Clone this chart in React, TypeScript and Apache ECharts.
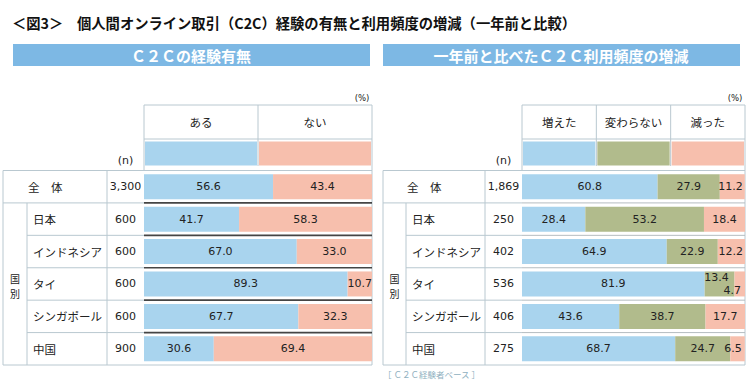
import React, { useEffect, useRef } from 'react';
import * as echarts from 'echarts';

// ---------- data ----------
const TITLE_NO = '＜図3＞';
const TITLE = '個人間オンライン取引（C2C）経験の有無と利用頻度の増減（一年前と比較）';
const LEFT_HEADER = 'Ｃ２Ｃの経験有無';
const RIGHT_HEADER = '一年前と比べたＣ２Ｃ利用頻度の増減';
const ROWS = ['全　体', '日本', 'インドネシア', 'タイ', 'シンガポール', '中国'];
const GROUP_LABEL = '国別';
const LEFT_N = ['3,300', '600', '600', '600', '600', '900'];
const RIGHT_N = ['1,869', '250', '402', '536', '406', '275'];
const LEFT_SERIES = ['ある', 'ない'];
const ARU = [56.6, 41.7, 67.0, 89.3, 67.7, 30.6];
const NAI = [43.4, 58.3, 33.0, 10.7, 32.3, 69.4];
const RIGHT_SERIES = ['増えた', '変わらない', '減った'];
const FUETA = [60.8, 28.4, 64.9, 81.9, 43.6, 68.7];
const KAWARANAI = [27.9, 53.2, 22.9, 13.4, 38.7, 24.7];
const HETTA = [11.2, 18.4, 12.2, 4.7, 17.7, 6.5];
const UNIT_PCT = '(%)';
const UNIT_N = '(n)';
const FOOTNOTE = '［ Ｃ２Ｃ経験者ベース ］';

// ---------- styles ----------
const BLUE = '#a9d4ee';
const SALMON = '#f7bfad';
const OLIVE = '#b1bb8c';
const HEAD = '#7db8e4';
const BORDER = '#b9c8d0';
const DARK = '#454545';
const TXT = '#222';
const JP = '"Noto Sans CJK JP", sans-serif';
const NUM = '"DejaVu Sans", sans-serif';

const TOP = 170.5;
const BOTTOM = 365;
const ROWH = (BOTTOM - TOP) / ROWS.length;
const HTOP = 105;
const HMID = 139;
const HBOT = 166;

const LT = { x0: 3, xc: 27, xn: 107, xb: 144, xe: 372, names: LEFT_SERIES, colors: [BLUE, SALMON], sep: DARK, sepW: 1.6 };
const RT = { x0: 383, xc: 406, xn: 485, xb: 522, xe: 745, names: RIGHT_SERIES, colors: [BLUE, OLIVE, SALMON], sep: '#b5bcc0', sepW: 1 };

function line(x1: number, y1: number, x2: number, y2: number, color = BORDER, w = 1) {
  return { type: 'line', silent: true, shape: { x1, y1, x2, y2 }, style: { stroke: color, lineWidth: w } };
}
function text(x: number, y: number, s: string, o: any = {}) {
  const align = o.align || 'center';
  return {
    type: 'text', silent: true, x, y,
    style: {
      text: s, fill: o.fill || TXT, fontSize: o.size || 11.5, fontFamily: o.family || JP,
      fontWeight: o.weight || 'normal', align, textAlign: align,
      verticalAlign: 'middle', textVerticalAlign: 'middle',
    },
  };
}

function table(t: any) {
  const els: any[] = [];
  const n = t.names.length;
  const cw = (t.xe - t.xb) / n;
  // header box
  els.push(line(t.xb, HTOP, t.xe, HTOP));
  els.push(line(t.xb, HMID, t.xe, HMID));
  els.push(line(t.xb, HTOP, t.xb, TOP));
  els.push(line(t.xe, HTOP, t.xe, BOTTOM));
  for (let k = 1; k < n; k++) els.push(line(t.xb + k * cw, HTOP, t.xb + k * cw, HBOT));
  for (let k = 0; k < n; k++) {
    els.push({ type: 'rect', silent: true, shape: { x: t.xb + k * cw + 1, y: HMID + 2.5, width: cw - 2, height: HBOT - HMID - 3 }, style: { fill: t.colors[k] } });
    els.push(text(t.xb + k * cw + cw / 2, (HTOP + HMID) / 2, t.names[k]));
  }
  els.push(text(t.xe - 10, HTOP - 7, UNIT_PCT, { size: 8.5, family: NUM }));
  els.push(text((t.xn + t.xb) / 2, HBOT - 6, UNIT_N, { size: 11, family: NUM }));
  // body grid
  els.push(line(t.x0, TOP, t.xe, TOP));
  els.push(line(t.x0, BOTTOM, t.xe, BOTTOM));
  els.push(line(t.x0, TOP, t.x0, BOTTOM));
  els.push(line(t.xc, TOP + ROWH, t.xc, BOTTOM));
  els.push(line(t.xn, TOP, t.xn, BOTTOM));
  for (let r = 1; r < ROWS.length; r++) {
    const y = TOP + r * ROWH;
    els.push(line(r === 1 ? t.x0 : t.xc, y, t.xb, y));
    els.push(line(t.xb, y, t.xe, y, t.sep, t.sepW));
  }
  const cy = (TOP + ROWH + BOTTOM) / 2 + 2;
  const chars = Array.from(GROUP_LABEL);
  chars.forEach((c, i) => {
    els.push(text((t.x0 + t.xc) / 2, cy + (i - (chars.length - 1) / 2) * 14.5, c, { size: 10 }));
  });
  return els;
}

const LABEL_OVERRIDE: Record<string, any> = {
  'R1-3': { offset: [-3, -6.5] },
  'R2-0': { position: 'insideRight', distance: 2 },
  'R2-2': { position: 'insideRight', distance: 2 },
  'R2-3': { position: 'insideRight', distance: 4, offset: [0, 7] },
  'R2-5': { position: 'insideRight', distance: 3 },
};

function barSeries(name: string, values: number[], color: string, stack: string, gi: number, key: string) {
  return {
    type: 'bar', name, stack, xAxisIndex: gi, yAxisIndex: gi * 2, barWidth: 25, silent: true,
    itemStyle: { color },
    label: {
      show: true, position: 'inside', color: TXT, fontSize: 11, fontFamily: NUM,
      formatter: (p: any) => Number(p.value).toFixed(1),
    },
    data: values.map((v, i) => {
      const o = LABEL_OVERRIDE[key + '-' + i];
      return o ? { value: v, label: o } : { value: v };
    }),
  };
}

function yAxes(gi: number, t: any, nList: string[]) {
  return [
    {
      gridIndex: gi, type: 'category', inverse: true, data: ROWS, position: 'left',
      axisLine: { show: false }, axisTick: { show: false }, splitLine: { show: false },
      axisLabel: {
        align: 'left', margin: t.xb - (t.xc + 1), color: TXT, fontFamily: JP, fontSize: 11.5,
        formatter: (v: string, i: number) => (i === 0 ? `{a|${v}}` : `{b|${v}}`),
        rich: {
          a: { fontFamily: JP, fontSize: 11.5, color: TXT, padding: [0, 0, 0, 0] },
          b: { fontFamily: JP, fontSize: 11.5, color: TXT, padding: [0, 0, 0, 5] },
        },
      },
    },
    {
      gridIndex: gi, type: 'category', inverse: true, data: nList, position: 'left',
      axisLine: { show: false }, axisTick: { show: false }, splitLine: { show: false },
      axisLabel: { align: 'center', margin: (t.xb - t.xn) / 2, color: TXT, fontFamily: NUM, fontSize: 11 },
    },
  ];
}

export default function App() {
  const ref = useRef<HTMLDivElement>(null);
  useEffect(() => {
    document.body.style.margin = '0';
    const chart = echarts.init(ref.current!, null, { renderer: 'svg' });
    const lAx = yAxes(0, { ...LT, xc: LT.x0 + 24 }, LEFT_N);
    const rAx = yAxes(1, { ...RT, xc: RT.x0 + 23 }, RIGHT_N);
    chart.setOption({
      animation: false,
      backgroundColor: '#fff',
      grid: [
        { left: LT.xb, top: TOP, width: LT.xe - LT.xb, height: BOTTOM - TOP },
        { left: RT.xb, top: TOP, width: RT.xe - RT.xb, height: BOTTOM - TOP },
      ],
      xAxis: [
        { gridIndex: 0, type: 'value', min: 0, max: 100, show: false },
        { gridIndex: 1, type: 'value', min: 0, max: 100, show: false },
      ],
      yAxis: [...lAx, ...rAx],
      series: [
        barSeries(LEFT_SERIES[0], ARU, BLUE, 'L', 0, 'L0'),
        barSeries(LEFT_SERIES[1], NAI, SALMON, 'L', 0, 'L1'),
        barSeries(RIGHT_SERIES[0], FUETA, BLUE, 'R', 1, 'R0'),
        barSeries(RIGHT_SERIES[1], KAWARANAI, OLIVE, 'R', 1, 'R1'),
        barSeries(RIGHT_SERIES[2], HETTA, SALMON, 'R', 1, 'R2'),
      ],
      graphic: [
        text(12, 22, TITLE_NO, { align: 'left', size: 14.3, weight: 'bold', fill: '#111' }),
        text(77, 22, TITLE, { align: 'left', size: 14.3, weight: 'bold', fill: '#111' }),
        { type: 'rect', silent: true, shape: { x: 13, y: 44, width: 357, height: 22 }, style: { fill: HEAD } },
        { type: 'rect', silent: true, shape: { x: 383, y: 44, width: 357, height: 22 }, style: { fill: HEAD } },
        text(191, 55, LEFT_HEADER, { size: 15, weight: 'bold', fill: '#fff' }),
        text(561, 55, RIGHT_HEADER, { size: 15, weight: 'bold', fill: '#fff' }),
        ...table(LT),
        ...table(RT),
        text(383, 374, FOOTNOTE, { align: 'left', size: 8.5, fill: '#8fb0c0' }),
      ],
    });
    return () => chart.dispose();
  }, []);
  return <div ref={ref} style={{ width: 750, height: 385, position: 'fixed', left: 0, top: 0 }} />;
}
